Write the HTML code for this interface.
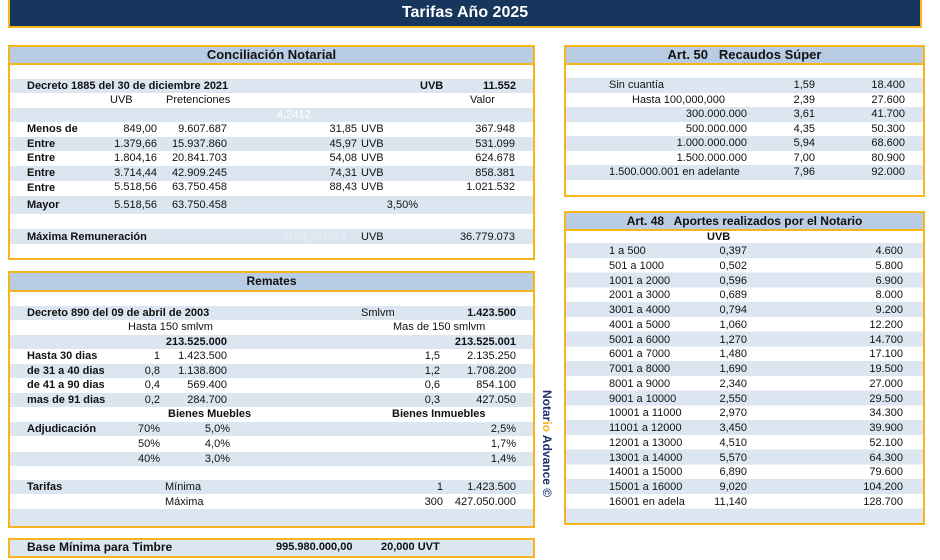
<!DOCTYPE html>
<html><head><meta charset="utf-8"><style>
*{margin:0;padding:0;box-sizing:border-box}
body{width:940px;height:560px;background:#fff;position:relative;overflow:hidden;font-family:"Liberation Sans",Arial,sans-serif;font-size:11px;color:#111}
.a{position:absolute;white-space:nowrap;line-height:14px}
.r{position:absolute;white-space:nowrap;line-height:14px;text-align:right}
.b{font-weight:bold}
.box{position:absolute;border:2px solid #f6b51c;background:#fff}
.hd{position:absolute;background:#b8cce4;border-bottom:2px solid #f6b51c;font-weight:bold;font-size:13px;text-align:center;line-height:16px}
.s{position:absolute;background:#dce6f1}
</style></head><body>
<div style="position:absolute;left:8px;top:0;width:914px;height:28px;background:#17365d;border:2px solid #f6b51c;border-top:none;color:#fff;font-weight:bold;font-size:16px;text-align:center;line-height:25px">Tarifas Año 2025</div>

<!-- Conciliacion -->
<div class="box" style="left:8px;top:45px;width:527px;height:215px"></div>
<div class="s" style="left:10px;top:79px;width:523px;height:14px"></div>
<div class="s" style="left:10px;top:108px;width:523px;height:14px"></div>
<div class="s" style="left:10px;top:137px;width:523px;height:14px"></div>
<div class="s" style="left:10px;top:166px;width:523px;height:15px"></div>
<div class="s" style="left:10px;top:196px;width:523px;height:18px"></div>
<div class="s" style="left:10px;top:229px;width:523px;height:15px"></div>
<div class="hd" style="left:10px;top:47px;width:523px;height:18px">Conciliación Notarial</div>
<div class="a b" style="left:27px;top:79px">Decreto 1885 del 30 de diciembre 2021</div>
<div class="a b" style="left:420px;top:79px">UVB</div>
<div class="r b" style="right:424px;top:79px">11.552</div>
<div class="a" style="left:110px;top:93px">UVB</div>
<div class="a" style="left:166px;top:93px">Pretenciones</div>
<div class="a" style="left:470px;top:93px">Valor</div>
<div class="a" style="left:277px;top:108px;color:#fff">4,2412</div>
<div class="a b" style="left:27px;top:122px">Menos de</div>
<div class="a b" style="left:27px;top:137px">Entre</div>
<div class="a b" style="left:27px;top:151px">Entre</div>
<div class="a b" style="left:27px;top:166px">Entre</div>
<div class="a b" style="left:27px;top:181px">Entre</div>
<div class="a b" style="left:27px;top:198px">Mayor</div>
<div class="r" style="right:783px;top:122px;line-height:14.6px">849,00<br>1.379,66<br>1.804,16<br>3.714,44<br>5.518,56</div>
<div class="r" style="right:713px;top:122px;line-height:14.6px">9.607.687<br>15.937.860<br>20.841.703<br>42.909.245<br>63.750.458</div>
<div class="r" style="right:583px;top:122px;line-height:14.6px">31,85<br>45,97<br>54,08<br>74,31<br>88,43</div>
<div class="a" style="left:361px;top:122px;line-height:14.6px">UVB<br>UVB<br>UVB<br>UVB<br>UVB</div>
<div class="r" style="right:425px;top:122px;line-height:14.6px">367.948<br>531.099<br>624.678<br>858.381<br>1.021.532</div>
<div class="r" style="right:783px;top:198px">5.518,56</div>
<div class="r" style="right:713px;top:198px">63.750.458</div>
<div class="r" style="right:522px;top:198px">3,50%</div>
<div class="a b" style="left:27px;top:230px">Máxima Remuneración</div>
<div class="a" style="left:282px;top:230px;color:#e8eef6">3183,784016</div>
<div class="a" style="left:361px;top:230px">UVB</div>
<div class="r" style="right:425px;top:230px">36.779.073</div>

<!-- Remates -->
<div class="box" style="left:8px;top:271px;width:527px;height:257px"></div>
<div class="s" style="left:10px;top:306px;width:523px;height:14px"></div>
<div class="s" style="left:10px;top:335px;width:523px;height:14px"></div>
<div class="s" style="left:10px;top:364px;width:523px;height:14px"></div>
<div class="s" style="left:10px;top:393px;width:523px;height:14px"></div>
<div class="s" style="left:10px;top:422px;width:523px;height:14px"></div>
<div class="s" style="left:10px;top:452px;width:523px;height:14px"></div>
<div class="s" style="left:10px;top:480px;width:523px;height:14px"></div>
<div class="s" style="left:10px;top:509px;width:523px;height:17px"></div>
<div class="hd" style="left:10px;top:273px;width:523px;height:19px;font-size:12px">Remates</div>
<div class="a b" style="left:27px;top:306px">Decreto 890 del 09 de abril de 2003</div>
<div class="a" style="left:361px;top:306px">Smlvm</div>
<div class="r b" style="right:424px;top:306px">1.423.500</div>
<div class="a" style="left:128px;top:320px">Hasta 150 smlvm</div>
<div class="a" style="left:393px;top:320px">Mas de 150 smlvm</div>
<div class="r b" style="right:713px;top:335px">213.525.000</div>
<div class="r b" style="right:424px;top:335px">213.525.001</div>
<div class="a b" style="left:27px;top:349px;line-height:14.6px">Hasta 30 dias<br>de 31 a 40 dias<br>de 41 a 90 dias<br>mas de 91 dias</div>
<div class="r" style="right:780px;top:349px;line-height:14.6px">1<br>0,8<br>0,4<br>0,2</div>
<div class="r" style="right:713px;top:349px;line-height:14.6px">1.423.500<br>1.138.800<br>569.400<br>284.700</div>
<div class="r" style="right:500px;top:349px;line-height:14.6px">1,5<br>1,2<br>0,6<br>0,3</div>
<div class="r" style="right:424px;top:349px;line-height:14.6px">2.135.250<br>1.708.200<br>854.100<br>427.050</div>
<div class="a b" style="left:168px;top:407px">Bienes Muebles</div>
<div class="a b" style="left:392px;top:407px">Bienes Inmuebles</div>
<div class="a b" style="left:27px;top:422px">Adjudicación</div>
<div class="r" style="right:780px;top:422px;line-height:14.8px">70%<br>50%<br>40%</div>
<div class="r" style="right:710px;top:422px;line-height:14.8px">5,0%<br>4,0%<br>3,0%</div>
<div class="r" style="right:424px;top:422px;line-height:14.8px">2,5%<br>1,7%<br>1,4%</div>
<div class="a b" style="left:27px;top:480px">Tarifas</div>
<div class="a" style="left:165px;top:480px;line-height:14.6px">Mínima<br>Máxima</div>
<div class="r" style="right:497px;top:480px;line-height:14.6px">1<br>300</div>
<div class="r" style="right:424px;top:480px;line-height:14.6px">1.423.500<br>427.050.000</div>

<!-- Base -->
<div class="box" style="left:8px;top:538px;width:527px;height:20px;background:#dce6f1"></div>
<div class="a b" style="left:27px;top:540px;font-size:12px">Base Mínima para Timbre</div>
<div class="a b" style="left:276px;top:540px">995.980.000,00</div>
<div class="a b" style="left:381px;top:540px">20,000 UVT</div>

<!-- Notario Advance -->
<div class="a b" style="left:548px;top:390px;transform-origin:0 0;transform:rotate(90deg) translateY(-6px);font-size:12px;color:#1f2f6b">Notar<span style="color:#f6b51c">io</span> Advance ©</div>

<!-- Art 50 -->
<div class="box" style="left:564px;top:45px;width:361px;height:152px"></div>
<div class="s" style="left:566px;top:78px;width:357px;height:14.5px"></div>
<div class="s" style="left:566px;top:107px;width:357px;height:14.5px"></div>
<div class="s" style="left:566px;top:136px;width:357px;height:14.5px"></div>
<div class="s" style="left:566px;top:165px;width:357px;height:14.5px"></div>
<div class="hd" style="left:566px;top:47px;width:357px;height:18px">Art. 50&nbsp;&nbsp; Recaudos Súper</div>
<div class="a" style="left:609px;top:78px">Sin cuantía</div>
<div class="a" style="left:632px;top:93px">Hasta 100,000,000</div>
<div class="r" style="right:193px;top:107px;line-height:14.5px">300.000.000<br>500.000.000<br>1.000.000.000<br>1.500.000.000</div>
<div class="a" style="left:609px;top:165px">1.500.000.001 en adelante</div>
<div class="r" style="right:125px;top:78px;line-height:14.5px">1,59<br>2,39<br>3,61<br>4,35<br>5,94<br>7,00<br>7,96</div>
<div class="r" style="right:35px;top:78px;line-height:14.5px">18.400<br>27.600<br>41.700<br>50.300<br>68.600<br>80.900<br>92.000</div>

<!-- Art 48 -->
<div class="box" style="left:564px;top:211px;width:361px;height:314px"></div>
<div style="position:absolute;left:566px;top:243px;width:357px;height:280px;background:repeating-linear-gradient(#dce6f1 0,#dce6f1 14.76px,#fff 14.76px,#fff 29.52px)"></div>
<div class="s" style="left:566px;top:508.7px;width:357px;height:14.3px"></div>
<div class="hd" style="left:566px;top:213px;width:357px;height:18px;font-size:12px">Art. 48&nbsp;&nbsp; Aportes realizados por el Notario</div>
<div class="a b" style="left:707px;top:230px">UVB</div>
<div class="a" style="left:609px;top:244px;line-height:14.76px">1 a 500<br>501 a 1000<br>1001 a 2000<br>2001 a 3000<br>3001 a 4000<br>4001 a 5000<br>5001 a 6000<br>6001 a 7000<br>7001 a 8000<br>8001 a 9000<br>9001 a 10000<br>10001 a 11000<br>11001 a 12000<br>12001 a 13000<br>13001 a 14000<br>14001 a 15000<br>15001 a 16000<br>16001 en adela</div>
<div class="r" style="right:193px;top:244px;line-height:14.76px">0,397<br>0,502<br>0,596<br>0,689<br>0,794<br>1,060<br>1,270<br>1,480<br>1,690<br>2,340<br>2,550<br>2,970<br>3,450<br>4,510<br>5,570<br>6,890<br>9,020<br>11,140</div>
<div class="r" style="right:37px;top:244px;line-height:14.76px">4.600<br>5.800<br>6.900<br>8.000<br>9.200<br>12.200<br>14.700<br>17.100<br>19.500<br>27.000<br>29.500<br>34.300<br>39.900<br>52.100<br>64.300<br>79.600<br>104.200<br>128.700</div>
</body></html>
